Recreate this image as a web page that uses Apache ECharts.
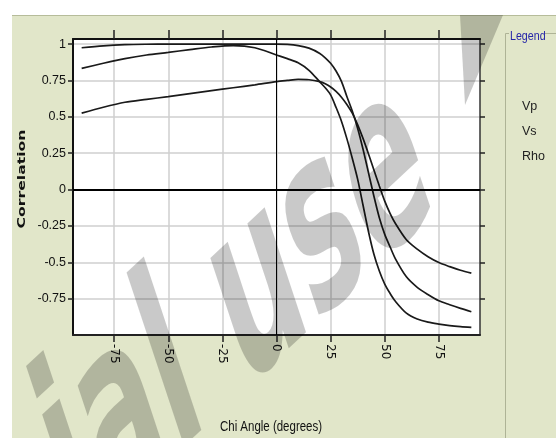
<!DOCTYPE html>
<html>
<head>
<meta charset="utf-8">
<script src="https://cdn.jsdelivr.net/npm/echarts@6/dist/echarts.min.js"></script>
<style>
  html, body { margin: 0; padding: 0; background: #fff; }
  #main { width: 556px; height: 438px; }
</style>
</head>
<body>
<div id="main"></div>
<script>
// chi angle (degrees) sample positions
var angles = [-90, -80, -70, -60, -50, -40, -30, -20, -10, 0, 5, 10, 15, 20, 22.5, 25, 27.5, 30, 32.5, 35,
              37.5, 40, 42.5, 45, 47.5, 50, 52.5, 55, 60, 65, 70, 75, 80, 85, 90];

// correlation
var vp  = [0.975, 0.988, 0.996, 0.999, 1.0, 1.0, 1.0, 1.0, 1.0, 1.0, 0.998, 0.99, 0.972, 0.936, 0.906, 0.868, 0.815, 0.744, 0.64, 0.54,
           0.42, 0.275, 0.115, -0.046, -0.194, -0.308, -0.395, -0.478, -0.6, -0.672, -0.722, -0.765, -0.792, -0.817, -0.84];
var vs  = [0.833, 0.868, 0.9, 0.925, 0.943, 0.962, 0.98, 0.99, 0.975, 0.925, 0.9, 0.872, 0.82, 0.74, 0.7, 0.651, 0.565, 0.47, 0.35, 0.215,
           0.07, -0.11, -0.29, -0.445, -0.56, -0.65, -0.715, -0.77, -0.85, -0.89, -0.912, -0.925, -0.935, -0.942, -0.947];
var rho = [0.525, 0.566, 0.6, 0.62, 0.639, 0.66, 0.68, 0.7, 0.72, 0.742, 0.75, 0.757, 0.755, 0.742, 0.727, 0.705, 0.675, 0.635, 0.585, 0.525,
           0.445, 0.35, 0.245, 0.135, 0.025, -0.08, -0.165, -0.235, -0.345, -0.41, -0.462, -0.502, -0.53, -0.555, -0.575];

var seriesNames = ['Vp', 'Vs', 'Rho'];
var xTicks = [-75, -50, -25, 0, 25, 50, 75];
var yTicks = [-0.75, -0.5, -0.25, 0, 0.25, 0.5, 0.75, 1];

var sans = '"Liberation Sans", Arial, sans-serif';
var wm = 'rgba(0,0,0,0.21)';

function pairs(vals) {
  return angles.map(function (a, i) { return [a, vals[i]]; });
}

var lineStyle = { color: '#1a1a1a', width: 1.7 };

var chart = echarts.init(document.getElementById('main'));

chart.setOption({
  animation: false,
  backgroundColor: '#e1e6c9',
  grid: {
    left: 73, top: 39, width: 407, height: 296,
    show: true, backgroundColor: '#fff', borderWidth: 0
  },
  legend: {
    data: seriesNames,
    orient: 'vertical',
    left: 517, top: 100,
    padding: 0,
    itemWidth: 0, itemHeight: 14, itemGap: 11,
    icon: 'rect',
    selectedMode: false,
    textStyle: { fontFamily: sans, fontSize: 12.5, color: '#222' }
  },
  xAxis: [{
    type: 'value', min: -94, max: 94, position: 'bottom',
    axisLine: { show: true, onZero: false, lineStyle: { color: '#222', width: 2 } },
    axisTick: { customValues: xTicks, length: 7, lineStyle: { color: '#222', width: 1.5 } },
    axisLabel: { customValues: xTicks, rotate: -90, margin: 9, fontFamily: 'DejaVu Sans', fontSize: 12, color: '#111' },
    splitLine: { show: true, lineStyle: { color: '#cfcfcf', width: 1.5 } }
  }, {
    type: 'value', min: -94, max: 94, position: 'top',
    axisLine: { show: true, onZero: false, lineStyle: { color: '#111', width: 2 } },
    axisTick: { customValues: xTicks, length: 9, lineStyle: { color: '#222', width: 1.5 } },
    axisLabel: { show: false },
    splitLine: { show: false }
  }],
  yAxis: [{
    type: 'value', min: -1, max: 1.035, interval: 0.25, position: 'left',
    axisLine: { show: true, onZero: false, lineStyle: { color: '#111', width: 2 } },
    axisTick: { customValues: yTicks, length: 5, lineStyle: { color: '#222', width: 1.5 } },
    axisLabel: { customValues: yTicks, margin: 7, fontFamily: sans, fontSize: 12.5, color: '#111' },
    splitLine: { show: true, lineStyle: { color: '#cfcfcf', width: 1.5 } }
  }, {
    type: 'value', min: -1, max: 1.035, interval: 0.25, position: 'right',
    axisLine: { show: true, onZero: false, lineStyle: { color: '#333', width: 1.5 } },
    axisTick: { customValues: yTicks, length: 5, lineStyle: { color: '#222', width: 1.5 } },
    axisLabel: { show: false },
    splitLine: { show: false }
  }],
  series: [{
    name: 'Vp', type: 'line', data: pairs(vp), showSymbol: false, smooth: 0.3, lineStyle: lineStyle,
    markLine: {
      silent: true, symbol: ['none', 'none'], label: { show: false },
      lineStyle: { color: '#000', type: 'solid' },
      data: [{ xAxis: 0, lineStyle: { width: 1 } }, { yAxis: 0, lineStyle: { width: 2 } }]
    }
  }, {
    name: 'Vs', type: 'line', data: pairs(vs), showSymbol: false, smooth: 0.3, lineStyle: lineStyle
  }, {
    name: 'Rho', type: 'line', data: pairs(rho), showSymbol: false, smooth: 0.3, lineStyle: lineStyle
  }],
  graphic: [
    { type: 'rect', shape: { x: 0, y: 0, width: 556, height: 15 }, style: { fill: '#fff' }, silent: true },
    { type: 'rect', shape: { x: 0, y: 0, width: 12, height: 438 }, style: { fill: '#fff' }, silent: true },
    { type: 'line', shape: { x1: 12, y1: 15.5, x2: 556, y2: 15.5 }, style: { stroke: '#b6bc9a', lineWidth: 1 }, silent: true },
    // legend frame
    { type: 'polyline', shape: { points: [[509, 33.5], [505.5, 33.5], [505.5, 438]] }, style: { stroke: '#aeb396', lineWidth: 1, fill: null }, silent: true },
    { type: 'line', shape: { x1: 545, y1: 33.5, x2: 556, y2: 33.5 }, style: { stroke: '#aeb396', lineWidth: 1 }, silent: true },
    { type: 'text', x: 510, y: 36, scaleX: 0.82,
      style: { text: 'Legend', fontFamily: sans, fontSize: 13, fill: '#2626a8', textVerticalAlign: 'middle' }, silent: true },
    // axis titles
    { type: 'text', x: 271, y: 420, scaleX: 0.82,
      style: { text: 'Chi Angle (degrees)', fontFamily: sans, fontSize: 14, fill: '#111', textAlign: 'center', textVerticalAlign: 'top' }, silent: true },
    { type: 'text', x: 22, y: 179, rotation: Math.PI / 2, scaleX: 1.42,
      style: { text: 'Correlation', fontFamily: 'DejaVu Sans', fontWeight: 'bold', fontSize: 11, fill: '#111', textAlign: 'center', textVerticalAlign: 'middle' }, silent: true },
    // watermark
    { type: 'text', x: 238, y: 318, rotation: 0.75, scaleX: 1.08, scaleY: 1.75, skewX: -0.43, z: 100,
      style: { text: 'ial use', fontFamily: 'DejaVu Sans', fontWeight: 'bold', fontSize: 125, fill: wm, textAlign: 'center', textVerticalAlign: 'middle' }, silent: true },
    { type: 'polygon', z: 100, shape: { points: [[460, 15], [503, 15], [465, 105]] }, style: { fill: wm }, silent: true }
  ]
});
</script>
</body>
</html>
